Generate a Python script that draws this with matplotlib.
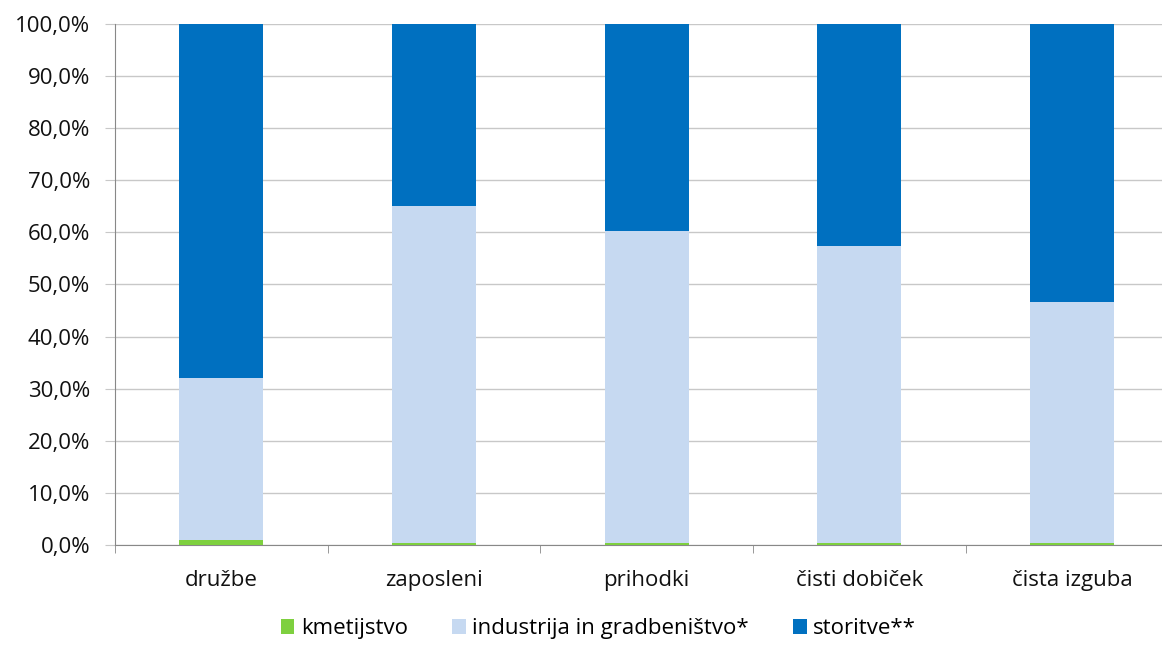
import matplotlib
matplotlib.use('Agg')
import matplotlib.pyplot as plt
import numpy as np

categories = ['družbe', 'zaposleni', 'prihodki', 'čisti dobiček', 'čista izguba']
kmetijstvo = [0.9, 0.4, 0.4, 0.4, 0.4]
industrija = [31.1, 64.7, 59.9, 57.0, 46.2]
storitve = [100 - k - i for k, i in zip(kmetijstvo, industrija)]
series_names = ['kmetijstvo', 'industrija in gradbeništvo*', 'storitve**']
colors = ['#7ED03F', '#C6D9F1', '#0070C0']

plt.rcParams['font.family'] = ['Open Sans', 'DejaVu Sans']
fs = 16

fig = plt.figure(figsize=(11.62, 6.45), dpi=100)
# plot area runs past the right edge of the picture, as in the original
ax = fig.add_axes([0.099, 0.155, 0.915, 0.808])

x = np.arange(len(categories))
bottom = np.zeros(len(categories))
for vals, name, col in zip([kmetijstvo, industrija, storitve], series_names, colors):
    ax.bar(x, vals, width=0.395, bottom=bottom, color=col, label=name, zorder=3)
    bottom += np.array(vals)

ax.set_xlim(-0.5, len(categories) - 0.5)
ax.set_ylim(0, 100)
ax.set_yticks(np.arange(0, 101, 10))
ax.set_yticklabels([f'{v:.1f}%'.replace('.', ',') for v in range(0, 101, 10)], fontsize=fs, color='#111111')
ax.yaxis.grid(True, color='#c8c8c8', linewidth=1, zorder=0)
ax.set_xticks(x)
ax.set_xticklabels(categories, fontsize=fs, color='#111111')
ax.set_xticks(np.arange(-0.5, len(categories), 1), minor=True)
ax.tick_params(axis='x', which='major', length=0, pad=18)
ax.tick_params(axis='x', which='minor', length=6, color='#888888')
ax.tick_params(axis='y', length=7, color='#c8c8c8', pad=11)

for s in ['top', 'right']:
    ax.spines[s].set_visible(False)
ax.spines['left'].set_color('#888888')
ax.spines['bottom'].set_color('#888888')

fig.legend(loc='center', bbox_to_anchor=(0.515, 0.025), ncol=3, frameon=False,
           fontsize=fs, handlelength=0.6, handleheight=0.6, handletextpad=0.3, columnspacing=2.0,
           borderpad=0.1)

fig.savefig('out.png', dpi=100)
